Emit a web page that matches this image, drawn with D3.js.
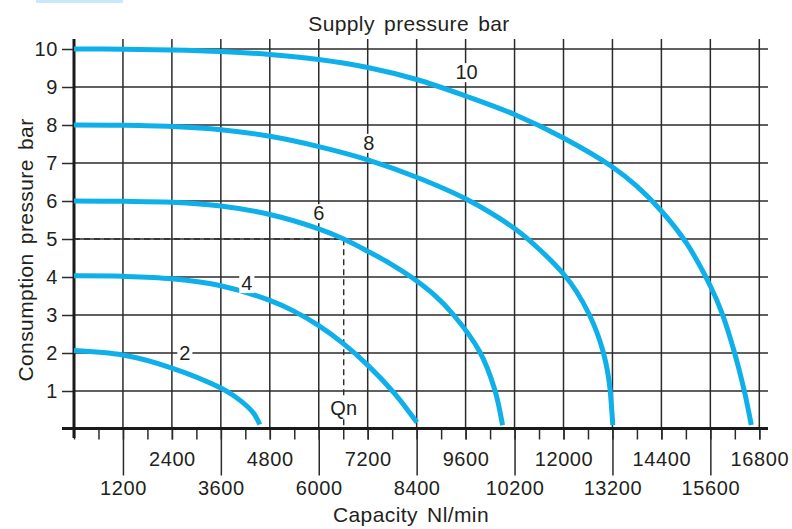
<!DOCTYPE html>
<html>
<head>
<meta charset="utf-8">
<script src="https://cdn.jsdelivr.net/npm/d3@7"></script>
<style>
body { margin: 0; background: #fff; }
text { font-family: "Liberation Sans", Arial, sans-serif; fill: #231f20; }
</style>
</head>
<body>
<svg id="chart" width="792" height="529"></svg>
<script>
// supply pressure curves: [capacity Nl/min, consumption pressure bar]
var supplyLabels = ["2", "4", "6", "8", "10"];
var curve2 = [[0, 2.066], [1200, 1.947], [2400, 1.605], [3600, 1.079], [3943, 0.855], [4237, 0.605],
	[4408, 0.408], [4555, 0.118]];
var curve4 = [[0, 4.03], [1200, 4.018], [2400, 3.953], [3600, 3.771], [4800, 3.384], [5400, 3.095],
	[6000, 2.721], [6588, 2.261], [7200, 1.682], [7861, 0.934], [8408, 0.171]];
var curve6 = [[0, 6.0], [1200, 5.992], [2400, 5.966], [3600, 5.868], [4800, 5.645], [6000, 5.268],
	[6612, 5.0], [7200, 4.679], [7739, 4.361], [8302, 3.974], [8804, 3.553], [9306, 3.0], [9943, 2.039],
	[10310, 1.053], [10506, 0.1]];
var curve8 = [[0, 8.0], [1200, 7.993], [2400, 7.961], [3600, 7.876], [4800, 7.703], [6000, 7.432],
	[7200, 7.084], [8400, 6.626], [9600, 6.058], [10800, 5.276], [11412, 4.724], [12000, 4.079],
	[12318, 3.618], [12637, 3.0], [12833, 2.5], [12980, 2.0], [13078, 1.526], [13139, 1.066],
	[13183, 0.5], [13208, 0.1]];
var curve10 = [[0, 10.0], [1200, 9.995], [2400, 9.976], [3600, 9.934], [4800, 9.855], [6000, 9.724],
	[7200, 9.513], [8400, 9.197], [9600, 8.763], [10800, 8.276], [12000, 7.658], [13200, 6.895],
	[13788, 6.395], [14400, 5.737], [15012, 4.895], [15600, 3.763], [15894, 3.026], [16188, 2.026],
	[16433, 1.0], [16604, 0.105]];
var curves = [curve2, curve4, curve6, curve8, curve10];
// where each supply label sits on its curve
var labelAt = [[2718, 2.0], [4237, 3.84], [6000, 5.68], [7225, 7.53], [9625, 9.39]];

// nominal flow point
var qn = 6612, pn = 5;
var qnLabelAt = [6612, 0.55];

// ticks
var pressureTicks = [1, 2, 3, 4, 5, 6, 7, 8, 9, 10];
var gridTicks = [1200, 2400, 3600, 4800, 6000, 7200, 8400, 9600, 10800, 12000, 13200, 14400, 15600, 16800];
var minorTicks = d3.range(0, 16801, 600);
var upperTicks = [2400, 4800, 7200, 9600, 12000, 14400, 16800];
var upperLabels = ["2400", "4800", "7200", "9600", "12000", "14400", "16800"];
var lowerTicks = [1200, 3600, 6000, 8400, 10800, 13200, 15600];
var lowerLabels = ["1200", "3600", "6000", "8400", "10200", "13200", "15600"];

var plotLeft = 74, plotRight = 759.3, plotTop = 49, plotBottom = 429;
var gridColor = "#2b2b2b";
var curveColor = "#0fb0ea";

var svg = d3.select("#chart");

var x = d3.scaleLinear().domain([0, 16800]).range([plotLeft, plotRight]);
var y = d3.scaleLinear().domain([0, 10]).range([plotBottom, plotTop]);

// little tab at the top left
svg.append("rect").attr("x", 36).attr("y", 0).attr("width", 87).attr("height", 3).attr("fill", "#c9e9f8");

// grid
svg.append("g").selectAll("line").data(pressureTicks).join("line")
	.attr("x1", plotLeft).attr("x2", 768)
	.attr("y1", function(d) { return y(d); }).attr("y2", function(d) { return y(d); })
	.attr("stroke", gridColor).attr("stroke-width", 1.5);
svg.append("g").selectAll("line").data(gridTicks).join("line")
	.attr("x1", function(d) { return x(d); }).attr("x2", function(d) { return x(d); })
	.attr("y1", 39).attr("y2", plotBottom)
	.attr("stroke", gridColor).attr("stroke-width", 1.5);

function styleAxis(g) {
	g.select(".domain").remove();
	g.selectAll(".tick line").attr("stroke", gridColor).attr("stroke-width", 1.5);
	g.selectAll(".tick text").attr("fill", null).style("font-size", "20px").style("letter-spacing", "0.6px");
}

// y axis
svg.append("g").attr("transform", "translate(" + plotLeft + ",0)")
	.call(d3.axisLeft(y).tickValues(pressureTicks).tickSize(12).tickPadding(4))
	.call(styleAxis);

// x axis: minor, upper row, lower row
svg.append("g").attr("transform", "translate(0," + (plotBottom - 0.5) + ")")
	.call(d3.axisBottom(x).tickValues(minorTicks).tickSize(11).tickFormat(""))
	.call(styleAxis);
svg.append("g").attr("transform", "translate(0," + (plotBottom - 0.5) + ")")
	.call(d3.axisBottom(x).tickValues(upperTicks).tickSize(11).tickPadding(12)
		.tickFormat(function(d, i) { return upperLabels[i]; }))
	.call(styleAxis);
svg.append("g").attr("transform", "translate(0," + (plotBottom - 0.5) + ")")
	.call(d3.axisBottom(x).tickValues(lowerTicks).tickSize(47).tickPadding(5)
		.tickFormat(function(d, i) { return lowerLabels[i]; }))
	.call(styleAxis);

// heavy axis lines
svg.append("line").attr("x1", plotLeft).attr("x2", plotLeft).attr("y1", 39).attr("y2", 438)
	.attr("stroke", "#1a1a1a").attr("stroke-width", 3);
svg.append("line").attr("x1", 62).attr("x2", 768).attr("y1", plotBottom - 0.5).attr("y2", plotBottom - 0.5)
	.attr("stroke", "#1a1a1a").attr("stroke-width", 3);

// Qn dashed guide
svg.append("path")
	.attr("d", "M" + x(0) + "," + y(pn) + "H" + x(qn) + "V" + y(0))
	.attr("fill", "none").attr("stroke", gridColor).attr("stroke-width", 1.4)
	.attr("stroke-dasharray", "6,4");

// curves
var line = d3.line()
	.x(function(d) { return x(d[0]); })
	.y(function(d) { return y(d[1]); })
	.curve(d3.curveCatmullRom.alpha(0.5));
svg.append("g").selectAll("path").data(curves).join("path")
	.attr("d", line)
	.attr("fill", "none").attr("stroke", curveColor).attr("stroke-width", 5);

// labels with white background
function addLabel(txt, q, p) {
	var g = svg.append("g");
	var bg = g.append("rect").attr("fill", "#fff");
	var t = g.append("text")
		.attr("x", x(q)).attr("y", y(p))
		.attr("dy", "0.35em")
		.attr("text-anchor", "middle")
		.style("font-size", "20px")
		.text(txt);
	var bb = t.node().getBBox();
	bg.attr("x", bb.x - 2).attr("y", bb.y + 2).attr("width", bb.width + 4).attr("height", bb.height - 3);
}
for (var i = 0; i < supplyLabels.length; i++) {
	addLabel(supplyLabels[i], labelAt[i][0], labelAt[i][1]);
}
addLabel("Qn", qnLabelAt[0], qnLabelAt[1]);

// titles
svg.append("text").attr("x", 409).attr("y", 31).attr("text-anchor", "middle")
	.style("font-size", "21px").style("letter-spacing", "0.4px").style("word-spacing", "3px")
	.text("Supply pressure bar");
svg.append("text").attr("x", 411).attr("y", 522).attr("text-anchor", "middle")
	.style("font-size", "21px").style("letter-spacing", "0.4px").style("word-spacing", "3px")
	.text("Capacity Nl/min");
svg.append("text").attr("transform", "translate(33,250) rotate(-90)").attr("text-anchor", "middle")
	.style("font-size", "21px").style("letter-spacing", "0.4px").style("word-spacing", "3px")
	.text("Consumption pressure bar");
</script>
</body>
</html>
